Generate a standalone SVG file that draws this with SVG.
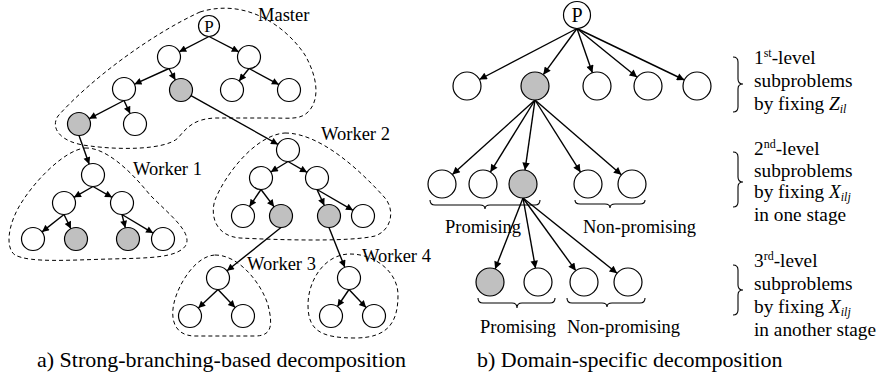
<svg xmlns="http://www.w3.org/2000/svg" width="878" height="379" viewBox="0 0 878 379">
<defs>
<marker id="ahL" viewBox="0 0 10 10" refX="10" refY="5" markerWidth="9" markerHeight="7" markerUnits="userSpaceOnUse" orient="auto"><path d="M0,0 L10,5 L0,10 z" fill="#000"/></marker>
<marker id="ahR" viewBox="0 0 10 10" refX="10" refY="5" markerWidth="10" markerHeight="7.5" markerUnits="userSpaceOnUse" orient="auto"><path d="M0,0 L10,5 L0,10 z" fill="#000"/></marker>
<style>
.n{fill:#fff;stroke:#000;stroke-width:1.2}
.g{fill:#c0c0c0;stroke:#000;stroke-width:1.2}
.eL{stroke:#000;stroke-width:1.4;fill:none;marker-end:url(#ahL)}
.eR{stroke:#000;stroke-width:1.4;fill:none;marker-end:url(#ahR)}
.d{fill:none;stroke:#000;stroke-width:1;stroke-dasharray:4 3}
.br{fill:none;stroke:#000;stroke-width:1.1}
text{font-family:"Liberation Serif","Times New Roman",serif;fill:#000}
.t{font-size:18.5px}
.r{font-size:19.3px}
.c{font-size:22px}
.sm{font-size:12px}
</style>
</defs>
<rect width="878" height="379" fill="#fff"/>

<g id="outlines">
<path class="d" d="M200 12 C245 -2 285 25 305 55 C318 78 320 100 308 112 C300 120 290 118 270 118 L215 118 C195 119 188 126 178 138 C165 150 120 150 90 146 C60 143 50 128 58 116 C90 80 150 35 200 12 Z"/>
<path class="d" d="M85 148 C105 147 130 170 150 195 C170 215 192 232 186 245 C178 258 150 258 110 259 C70 260 30 263 15 255 C5 248 8 225 20 205 C35 180 65 150 85 148 Z"/>
<path class="d" d="M285 133 C320 133 360 170 385 198 C395 210 392 230 375 236 C350 242 280 240 240 238 C215 236 210 215 215 200 C225 175 255 135 285 133 Z"/>
<path class="d" d="M215 255 C240 255 262 285 268 305 C273 325 272 336 255 336 L195 336 C175 336 170 320 174 303 C178 285 195 256 215 255 Z"/>
<path class="d" d="M350 254 C375 254 398 272 398 295 C398 320 390 338 355 338 C320 338 308 330 308 305 C308 280 325 254 350 254 Z"/>
</g>

<g id="connectors">
<line class="eL" x1="209" y1="36.5" x2="179.2" y2="51.8"/>
<line class="eL" x1="209" y1="36.5" x2="238.8" y2="51.8"/>
<line class="eL" x1="169" y1="68.5" x2="134.5" y2="84.2"/>
<line class="eL" x1="169" y1="68.5" x2="175.4" y2="80"/>
<line class="eL" x1="249" y1="68.5" x2="239.1" y2="81"/>
<line class="eL" x1="249" y1="68.5" x2="278.9" y2="84.6"/>
<line class="eL" x1="124" y1="100.5" x2="89.2" y2="118.7"/>
<line class="eL" x1="124" y1="100.5" x2="130.1" y2="113.6"/>
<line class="eL" x1="191" y1="95.6" x2="278" y2="144.4"/>
<line class="eL" x1="79" y1="135.5" x2="89.2" y2="164.2"/>
<line class="eL" x1="93" y1="186.5" x2="74" y2="197.3"/>
<line class="eL" x1="93" y1="186.5" x2="112" y2="197.3"/>
<line class="eL" x1="64" y1="214.5" x2="42" y2="231.9"/>
<line class="eL" x1="64" y1="214.5" x2="70.9" y2="228.7"/>
<line class="eL" x1="122" y1="214.5" x2="125.3" y2="227.8"/>
<line class="eL" x1="122" y1="214.5" x2="153.1" y2="233.1"/>
<line class="eL" x1="288" y1="161.5" x2="270.8" y2="172"/>
<line class="eL" x1="288" y1="161.5" x2="307" y2="172.3"/>
<line class="eL" x1="261" y1="189.5" x2="249.5" y2="206.5"/>
<line class="eL" x1="261" y1="189.5" x2="274.1" y2="206.8"/>
<line class="eL" x1="317" y1="189.5" x2="324.3" y2="205.5"/>
<line class="eL" x1="317" y1="189.5" x2="353" y2="210.3"/>
<line class="eL" x1="281" y1="227.5" x2="227" y2="270.8"/>
<line class="eL" x1="329" y1="227.5" x2="344.8" y2="267.3"/>
<line class="eL" x1="218" y1="289.5" x2="198.3" y2="308.1"/>
<line class="eL" x1="218" y1="289.5" x2="235.1" y2="307.6"/>
<line class="eL" x1="349" y1="289.5" x2="337.5" y2="306.5"/>
<line class="eL" x1="349" y1="289.5" x2="366.1" y2="307.6"/>

<line class="eR" x1="577" y1="28.5" x2="479.4" y2="79.5"/>
<line class="eR" x1="577" y1="28.5" x2="543.3" y2="74.7"/>
<line class="eR" x1="577" y1="28.5" x2="592.4" y2="72.8"/>
<line class="eR" x1="577" y1="28.5" x2="637.1" y2="77.2"/>
<line class="eR" x1="577" y1="28.5" x2="684.4" y2="80"/>
<line class="eR" x1="535" y1="100" x2="452.4" y2="174.6"/>
<line class="eR" x1="535" y1="100" x2="490.4" y2="172.1"/>
<line class="eR" x1="535" y1="100" x2="525" y2="170.1"/>
<line class="eR" x1="535" y1="100" x2="580.5" y2="172.2"/>
<line class="eR" x1="535" y1="100" x2="621.4" y2="174.8"/>
<line class="eR" x1="523" y1="198" x2="495.1" y2="269"/>
<line class="eR" x1="523" y1="198" x2="535.5" y2="268.2"/>
<line class="eR" x1="523" y1="198" x2="575.8" y2="270.7"/>
<line class="eR" x1="523" y1="198" x2="617.1" y2="273.3"/>
</g>

<g id="left-P"><circle class="n" cx="209" cy="26" r="10.5"/><text x="209" y="32" font-size="17" text-anchor="middle">P</text></g>
<g id="m1"><circle class="n" cx="169" cy="57" r="11.5"/></g>
<g id="m2"><circle class="n" cx="249" cy="57" r="11.5"/></g>
<g id="m3"><circle class="n" cx="124" cy="89" r="11.5"/></g>
<g id="m4"><circle class="g" cx="181" cy="90" r="11.5"/></g>
<g id="m5"><circle class="n" cx="232" cy="90" r="11.5"/></g>
<g id="m6"><circle class="n" cx="289" cy="90" r="11.5"/></g>
<g id="m7"><circle class="g" cx="79" cy="124" r="11.5"/></g>
<g id="m8"><circle class="n" cx="135" cy="124" r="11.5"/></g>

<g id="w1a"><circle class="n" cx="93" cy="175" r="11.5"/></g>
<g id="w1b"><circle class="n" cx="64" cy="203" r="11.5"/></g>
<g id="w1c"><circle class="n" cx="122" cy="203" r="11.5"/></g>
<g id="w1d"><circle class="n" cx="33" cy="239" r="11.5"/></g>
<g id="w1e"><circle class="g" cx="76" cy="239" r="11.5"/></g>
<g id="w1f"><circle class="g" cx="128" cy="239" r="11.5"/></g>
<g id="w1g"><circle class="n" cx="163" cy="239" r="11.5"/></g>

<g id="w2a"><circle class="n" cx="288" cy="150" r="11.5"/></g>
<g id="w2b"><circle class="n" cx="261" cy="178" r="11.5"/></g>
<g id="w2c"><circle class="n" cx="317" cy="178" r="11.5"/></g>
<g id="w2d"><circle class="n" cx="243" cy="216" r="11.5"/></g>
<g id="w2e"><circle class="g" cx="281" cy="216" r="11.5"/></g>
<g id="w2f"><circle class="g" cx="329" cy="216" r="11.5"/></g>
<g id="w2g"><circle class="n" cx="363" cy="216" r="11.5"/></g>

<g id="w3a"><circle class="n" cx="218" cy="278" r="11.5"/></g>
<g id="w3b"><circle class="n" cx="190" cy="316" r="11.5"/></g>
<g id="w3c"><circle class="n" cx="243" cy="316" r="11.5"/></g>
<g id="w4a"><circle class="n" cx="349" cy="278" r="11.5"/></g>
<g id="w4b"><circle class="n" cx="331" cy="316" r="11.5"/></g>
<g id="w4c"><circle class="n" cx="374" cy="316" r="11.5"/></g>

<g id="labels-left">
<text class="t" x="258" y="21">Master</text>
<text class="t" x="133" y="175">Worker 1</text>
<text class="t" x="321" y="140">Worker 2</text>
<text class="t" x="247" y="270">Worker 3</text>
<text class="t" x="362" y="262">Worker 4</text>
<text class="c" x="37" y="367">a) Strong-branching-based decomposition</text>
</g>

<g id="right-P"><circle class="n" cx="577" cy="15" r="13.5"/><text x="577" y="22" font-size="20" text-anchor="middle">P</text></g>
<g id="r1"><circle class="n" cx="467" cy="86" r="14"/></g>
<g id="r2"><circle class="g" cx="535" cy="86" r="14"/></g>
<g id="r3"><circle class="n" cx="597" cy="86" r="14"/></g>
<g id="r4"><circle class="n" cx="648" cy="86" r="14"/></g>
<g id="r5"><circle class="n" cx="697" cy="86" r="14"/></g>
<g id="s1"><circle class="n" cx="442" cy="184" r="14"/></g>
<g id="s2"><circle class="n" cx="483" cy="184" r="14"/></g>
<g id="s3"><circle class="g" cx="523" cy="184" r="14"/></g>
<g id="s4"><circle class="n" cx="588" cy="184" r="14"/></g>
<g id="s5"><circle class="n" cx="632" cy="184" r="14"/></g>
<g id="t1"><circle class="g" cx="490" cy="282" r="14"/></g>
<g id="t2"><circle class="n" cx="538" cy="282" r="14"/></g>
<g id="t3"><circle class="n" cx="584" cy="282" r="14"/></g>
<g id="t4"><circle class="n" cx="628" cy="282" r="14"/></g>

<g id="braces">
<path class="br" d="M430 200 Q430 205 435 205 L480 205 Q485 205 485 209 Q485 205 490 205 L535 205 Q540 205 540 200"/>
<path class="br" d="M575 200 Q575 204 580 204 L605 204 Q610 204 610 208 Q610 204 615 204 L640 204 Q645 204 645 200"/>
<path class="br" d="M478 298 Q478 303 483 303 L512 303 Q517 303 517 308 Q517 303 522 303 L550 303 Q555 303 555 298"/>
<path class="br" d="M567 298 Q567 303 572 303 L602 303 Q607 303 607 307 Q607 303 612 303 L640 303 Q645 303 645 298"/>
<path class="br" d="M733 57 Q738 57 738 62 L738 79 Q738 84 743 84 Q738 84 738 89 L738 107 Q738 112 733 112"/>
<path class="br" d="M733 152 Q738 152 738 157 L738 177 Q738 182 743 182 Q738 182 738 187 L738 202 Q738 207 733 207"/>
<path class="br" d="M733 265 Q738 265 738 270 L738 285 Q738 290 743 290 Q738 290 738 295 L738 310 Q738 315 733 315"/>
</g>

<g id="labels-right">
<text class="t" x="445" y="233">Promising</text>
<text class="t" x="583" y="233">Non-promising</text>
<text class="t" x="480" y="333">Promising</text>
<text class="t" x="567" y="333">Non-promising</text>
<text class="r" x="754" y="64">1<tspan class="sm" dy="-7">st</tspan><tspan dy="7">-level</tspan></text>
<text class="r" x="754" y="87">subproblems</text>
<text class="r" x="754" y="110">by fixing <tspan font-style="italic">Z</tspan><tspan class="sm" font-style="italic" dy="3">il</tspan></text>
<text class="r" x="754" y="155">2<tspan class="sm" dy="-7">nd</tspan><tspan dy="7">-level</tspan></text>
<text class="r" x="754" y="177">subproblems</text>
<text class="r" x="754" y="198">by fixing <tspan font-style="italic">X</tspan><tspan class="sm" font-style="italic" dy="3">ilj</tspan></text>
<text class="r" x="754" y="221">in one stage</text>
<text class="r" x="754" y="267">3<tspan class="sm" dy="-7">rd</tspan><tspan dy="7">-level</tspan></text>
<text class="r" x="754" y="290">subproblems</text>
<text class="r" x="754" y="313">by fixing <tspan font-style="italic">X</tspan><tspan class="sm" font-style="italic" dy="3">ilj</tspan></text>
<text class="r" x="754" y="336">in another stage</text>
<text class="c" x="477" y="367">b) Domain-specific decomposition</text>
</g>
</svg>
